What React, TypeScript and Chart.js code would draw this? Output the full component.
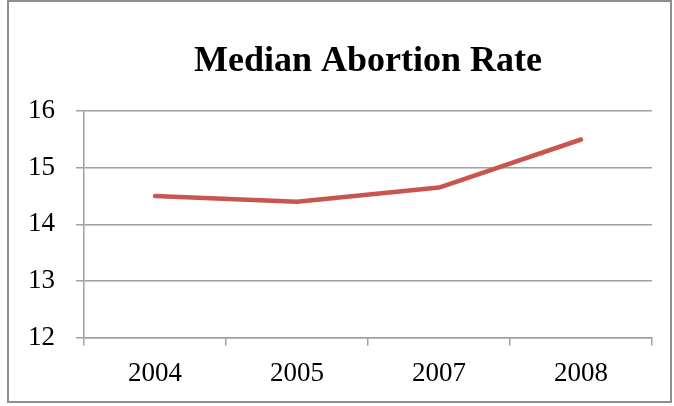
import React, { useEffect, useRef } from "react";
import { Chart, registerables } from "chart.js";

Chart.register(...registerables);

const categories: string[] = ["2004", "2005", "2007", "2008"];
const medianRate: number[] = [14.5, 14.4, 14.65, 15.5];
const yTicks: number[] = [12, 13, 14, 15, 16];
const titleText = "Median Abortion Rate";

const FONT = "'Liberation Serif', 'Times New Roman', serif";
const GRID = "#A0A0A0";

export default function App() {
  const ref = useRef<HTMLCanvasElement | null>(null);

  useEffect(() => {
    if (!ref.current) return;
    const chart = new Chart(ref.current, {
      type: "line",
      data: {
        labels: categories,
        datasets: [
          {
            label: "Median",
            data: medianRate,
            borderColor: "#C9554F",
            backgroundColor: "#C9554F",
            borderWidth: 4.5,
            borderCapStyle: "round",
            borderJoinStyle: "round",
            pointRadius: 0,
            tension: 0,
          },
        ],
      },
      options: {
        responsive: false,
        animation: false,
        devicePixelRatio: 1,
        layout: { padding: { left: 19, right: 19, top: 0, bottom: 0 } },
        plugins: {
          legend: { display: false },
          tooltip: { enabled: false },
          title: {
            display: true,
            text: titleText,
            fullSize: false,
            color: "#000",
            font: { family: FONT, size: 36, weight: "bold" },
            padding: { top: 38, bottom: 28 },
          },
        },
        scales: {
          x: {
            offset: true,
            grid: {
              offset: true,
              drawOnChartArea: false,
              drawTicks: true,
              tickLength: 8,
              color: GRID,
              lineWidth: 1.5,
            },
            border: { display: true, color: GRID, width: 1.5 },
            ticks: {
              color: "#000",
              font: { family: FONT, size: 27 },
              padding: 12,
              maxRotation: 0,
            },
          },
          y: {
            min: yTicks[0],
            max: yTicks[yTicks.length - 1],
            afterBuildTicks: (axis: any) => {
              axis.ticks = yTicks.map((v) => ({ value: v }));
            },
            afterFit: (axis: any) => {
              axis.width = 56;
            },
            grid: {
              color: GRID,
              lineWidth: 1.5,
              drawTicks: true,
              tickLength: 8,
            },
            border: { display: true, color: GRID, width: 1.5 },
            ticks: {
              color: "#000",
              font: { family: FONT, size: 27 },
              padding: 21,
            },
          },
        },
      },
    });
    return () => chart.destroy();
  }, []);

  return (
    <div style={{ position: "fixed", left: 0, top: 0, width: 674, height: 406, background: "#fff" }}>
      <div
        style={{
          position: "absolute",
          left: 7,
          top: 0,
          width: 665,
          height: 403,
          boxSizing: "border-box",
          border: "2px solid #8E8E8E",
        }}
      />
      <canvas
        ref={ref}
        width={662}
        height={400}
        style={{ position: "absolute", left: 9, top: 2, width: 662, height: 400 }}
      />
    </div>
  );
}
